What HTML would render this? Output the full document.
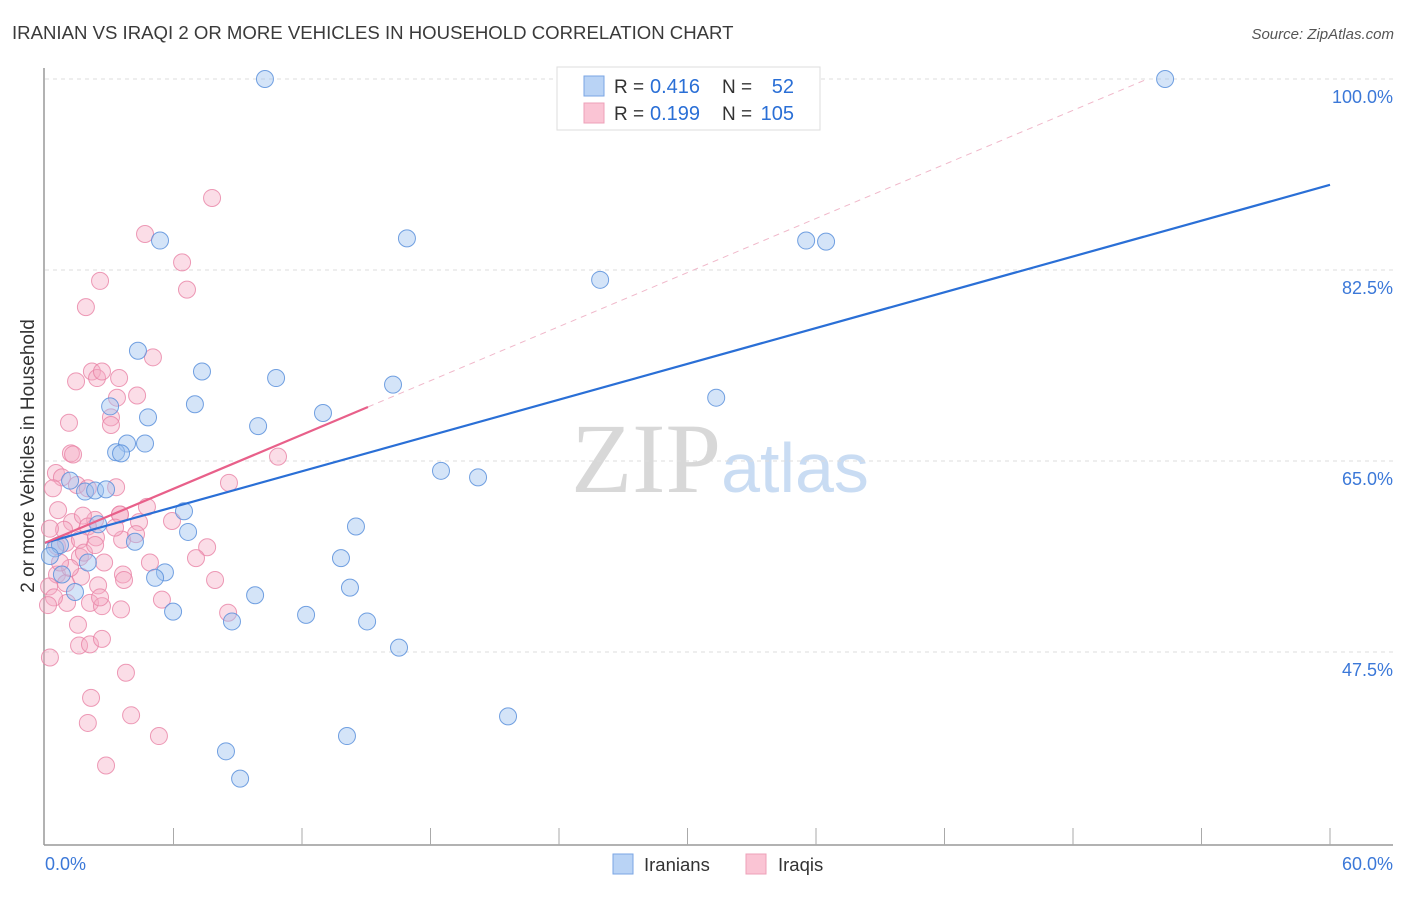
<!DOCTYPE html>
<html><head><meta charset="utf-8"><style>
body{margin:0;background:#fff;font-family:"Liberation Sans",sans-serif}
</style></head><body>
<svg id="chart" width="1406" height="892" viewBox="0 0 1406 892" xmlns="http://www.w3.org/2000/svg">
<text x="12" y="39" font-size="18.6" fill="#3a3a3a">IRANIAN VS IRAQI 2 OR MORE VEHICLES IN HOUSEHOLD CORRELATION CHART</text>
<text x="1394" y="39" font-size="15" fill="#555" text-anchor="end" font-style="italic">Source: ZipAtlas.com</text>
<text x="720" y="492" font-size="100" text-anchor="middle" font-family="Liberation Serif" fill="#ddd"><tspan fill="#d8d8d8">ZIP</tspan><tspan fill="#c9dcf3" font-family="Liberation Sans" font-size="70">atlas</tspan></text>
<text transform="translate(34,456) rotate(-90)" font-size="19" fill="#333" text-anchor="middle">2 or more Vehicles in Household</text>
<g id="grid"></g><g id="axes"></g><g id="pts"></g><g id="lines"></g>
<g>
<rect x="557" y="67" width="263" height="63" fill="#fff" stroke="#ddd"/>
<rect x="584" y="76" width="20" height="20" fill="#b9d3f5" stroke="#7aa6e4"/>
<rect x="584" y="103" width="20" height="20" fill="#fac4d4" stroke="#eea0b8"/>
<text x="614" y="93" font-size="19" fill="#333">R =</text>
<text x="650" y="93" font-size="20" fill="#2a6fd6">0.416</text>
<text x="722" y="93" font-size="19" fill="#333">N =</text>
<text x="794" y="93" font-size="20" fill="#2a6fd6" text-anchor="end">52</text>
<text x="614" y="120" font-size="19" fill="#333">R =</text>
<text x="650" y="120" font-size="20" fill="#2a6fd6">0.199</text>
<text x="722" y="120" font-size="19" fill="#333">N =</text>
<text x="794" y="120" font-size="20" fill="#2a6fd6" text-anchor="end">105</text>
</g>
<g>
<rect x="613" y="854" width="20" height="20" fill="#b9d3f5" stroke="#7aa6e4"/>
<text x="644" y="871" font-size="18.5" fill="#333">Iranians</text>
<rect x="746" y="854" width="20" height="20" fill="#fac4d4" stroke="#eea0b8"/>
<text x="778" y="871" font-size="18.5" fill="#333">Iraqis</text>
</g>
</svg>
<script>
const yTicks=[47.5,65.0,82.5,100.0];
const yTickLabels=["47.5%","65.0%","82.5%","100.0%"];
const xAxisLabels=["0.0%","60.0%"];
const iranX=[10.27,52.3,5.37,16.9,35.54,36.47,25.92,4.34,7.33,10.79,16.25,7.0,3.04,4.81,12.98,9.95,31.34,4.67,3.83,3.32,3.55,18.49,20.22,1.17,1.87,2.34,2.85,6.49,2.48,6.68,14.52,4.2,0.47,0.7,13.82,5.6,5.14,14.24,9.81,5.98,12.19,8.73,15.04,16.53,21.62,8.45,14.1,9.11,2.0,0.23,0.79,1.4];
const iranY=[100,100,85.2,85.4,85.2,85.1,81.6,75.1,73.2,72.6,72.0,70.2,70.0,69.0,69.4,68.2,70.8,66.6,66.6,65.8,65.7,64.1,63.5,63.2,62.2,62.3,62.4,60.4,59.2,58.5,59.0,57.6,57.0,57.3,56.1,54.8,54.3,53.4,52.7,51.2,50.9,50.3,50.3,47.9,41.6,38.4,39.8,35.9,55.7,56.3,54.6,53.0];
const iraqX=[7.8,4.67,6.4,6.63,2.57,1.91,5.04,2.19,2.43,3.46,2.66,1.45,4.3,3.36,3.08,3.08,1.12,1.21,1.31,0.51,0.79,0.37,1.49,2.0,3.32,10.88,8.59,4.76,3.5,5.93,4.39,2.34,1.26,1.77,0.61,0.89,0.23,2.0,0.56,0.98,1.63,2.38,3.6,7.57,4.25,4.9,7.05,1.63,2.76,3.64,2.48,0.56,0.98,1.68,0.19,1.03,2.1,3.69,5.46,8.55,2.66,1.54,1.59,2.1,2.66,0.23,3.78,2.15,2.0,4.02,5.32,2.85,7.94,3.55,0.42,0.14,2.57,1.17,1.82,0.7,3.5,2.34,3.27];
const iraqY=[89.1,85.8,83.2,80.7,81.5,79.1,74.5,73.2,72.6,72.6,73.2,72.3,71.0,70.8,69.0,68.3,68.5,65.7,65.6,63.9,63.5,62.5,62.8,62.5,62.6,65.4,63.0,60.8,60.1,59.5,59.4,59.6,59.4,60.0,60.5,58.7,58.8,59.0,57.2,57.5,57.8,58.0,57.8,57.1,58.3,55.7,56.1,56.2,55.7,54.6,53.6,54.6,53.8,54.4,53.5,52.0,52.0,54.1,52.3,51.1,51.7,50.0,48.1,48.2,48.7,47.0,45.6,43.3,41.0,41.7,39.8,37.1,54.1,51.4,52.5,51.8,52.5,55.2,56.6,55.7,60.1,57.3,58.9];
const iranTrend=[57.5,90.3];
const iraqTrend=[57.5,69.95,15.08];
const X0=45,X1=1330,Y100=79,PXPER=191/17.5;
const sx=v=>X0+(v/60)*(X1-X0);
const sy=v=>Y100+(100-v)*PXPER;
const NS="http://www.w3.org/2000/svg";
function mk(tag,attrs,parent){const e=document.createElementNS(NS,tag);for(const k in attrs)e.setAttribute(k,attrs[k]);parent.appendChild(e);return e;}
const grid=document.getElementById('grid'),axes=document.getElementById('axes'),pts=document.getElementById('pts'),lines=document.getElementById('lines');
yTicks.forEach((t,i)=>{
 const g=mk('line',{x1:45,x2:1393,y1:sy(t),y2:sy(t),stroke:'#ddd','stroke-dasharray':'4,4'},grid);
 
 
 const tx=mk('text',{x:1393,y:sy(t)+24,'font-size':18,fill:'#3b78d8','text-anchor':'end'},grid);
 tx.textContent=yTickLabels[i];
 
 
});
const ya=mk('line',{x1:44,x2:44,y1:68,y2:845,stroke:'#999','stroke-width':1.5},axes);


const xa=mk('line',{x1:44,x2:1393,y1:845,y2:845,stroke:'#999','stroke-width':1.5},axes);


for(let v=6;v<=60;v+=6){const t=mk('line',{x1:sx(v),x2:sx(v),y1:828,y2:845,stroke:'#aaa'},axes);
 
 }
[[0,'start',45],[60,'end',1393]].forEach((a,i)=>{const t=mk('text',{x:a[2],y:870,'font-size':18,fill:'#3b78d8','text-anchor':a[1]},axes);t.textContent=xAxisLabels[i];
 
 });
iraqX.forEach((x,i)=>{const c=mk('circle',{cx:sx(x),cy:sy(iraqY[i]),r:8.5,fill:'rgba(246,170,195,0.4)',stroke:'rgba(232,130,165,0.8)','stroke-width':1},pts);
 
 });
iranX.forEach((x,i)=>{const c=mk('circle',{cx:sx(x),cy:sy(iranY[i]),r:8.5,fill:'rgba(160,196,240,0.45)',stroke:'rgba(90,145,220,0.85)','stroke-width':1},pts);
 
 });
const bl=mk('line',{x1:sx(0),y1:sy(iranTrend[0]),x2:sx(60),y2:sy(iranTrend[1]),stroke:'#2a6fd6','stroke-width':2.2},lines);


const slope=(iraqTrend[1]-iraqTrend[0])/iraqTrend[2];
const xHit=(100-iraqTrend[0])/slope;
const pd=mk('line',{x1:sx(iraqTrend[2]),y1:sy(iraqTrend[1]),x2:sx(xHit),y2:sy(100),stroke:'#f0b8ca','stroke-width':1,'stroke-dasharray':'6,5'},lines);


const pl=mk('line',{x1:sx(0),y1:sy(iraqTrend[0]),x2:sx(iraqTrend[2]),y2:sy(iraqTrend[1]),stroke:'#e8608a','stroke-width':2.2},lines);


</script>
</body></html>
